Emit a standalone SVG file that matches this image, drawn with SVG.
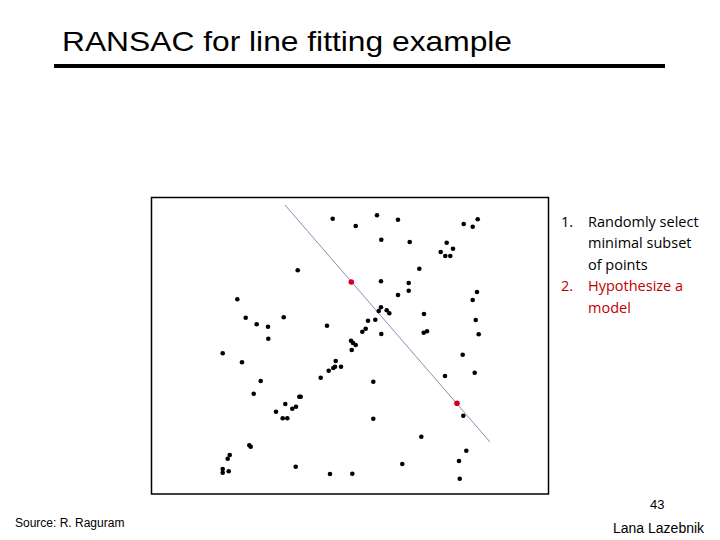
<svg xmlns="http://www.w3.org/2000/svg" width="720" height="540" viewBox="0 0 720 540">
<style>
.t{font-family:"Liberation Sans",Arial,sans-serif;fill:#000}
.l{font-family:"Open Sans","Liberation Sans",sans-serif;font-size:14.5px}
.p circle{fill:#000;r:2.3px}
.r{fill:#d0021b}
</style>
<rect width="720" height="540" fill="#fff"/>
<g id="title"><text class="t" x="62" y="51" font-size="28" textLength="450" lengthAdjust="spacingAndGlyphs">RANSAC for line fitting example</text>
<rect x="54" y="64" width="611" height="4" fill="#000"/></g>
<g id="plot">
<rect x="151.5" y="197.5" width="397" height="296.5" fill="#fff" stroke="#000" stroke-width="1.5"/>
<line x1="285" y1="205" x2="490" y2="442" stroke="#7070a0" stroke-width="0.8"/>
<g class="p">
<circle cx="332.7" cy="218.7" r="2.3"/><circle cx="297.7" cy="270.3" r="2.3"/><circle cx="237.3" cy="299.3" r="2.3"/><circle cx="245.7" cy="317.7" r="2.3"/><circle cx="256.7" cy="324.3" r="2.3"/><circle cx="268" cy="326.7" r="2.3"/><circle cx="283.7" cy="317.3" r="2.3"/><circle cx="327" cy="325.7" r="2.3"/><circle cx="268.3" cy="338.7" r="2.3"/><circle cx="222.7" cy="353.3" r="2.3"/><circle cx="242" cy="362.3" r="2.3"/><circle cx="335.7" cy="361" r="2.3"/><circle cx="333.3" cy="368" r="2.3"/><circle cx="335" cy="366.7" r="2.3"/><circle cx="341" cy="366.7" r="2.3"/><circle cx="328.7" cy="370.7" r="2.3"/><circle cx="320.7" cy="377.7" r="2.3"/><circle cx="260.7" cy="381" r="2.3"/><circle cx="253.7" cy="393.7" r="2.3"/><circle cx="299.3" cy="396.7" r="2.3"/><circle cx="300.7" cy="396.7" r="2.3"/><circle cx="285.3" cy="404" r="2.3"/><circle cx="296" cy="406.7" r="2.3"/><circle cx="292.3" cy="408.7" r="2.3"/><circle cx="276" cy="411.7" r="2.3"/><circle cx="282.7" cy="418.3" r="2.3"/><circle cx="287.3" cy="418.3" r="2.3"/><circle cx="249.3" cy="445.3" r="2.3"/><circle cx="250.7" cy="446.7" r="2.3"/><circle cx="229.7" cy="455" r="2.3"/><circle cx="227.7" cy="458.7" r="2.3"/><circle cx="222.7" cy="469" r="2.3"/><circle cx="222.7" cy="472.7" r="2.3"/><circle cx="228.7" cy="471.3" r="2.3"/><circle cx="295.7" cy="466.7" r="2.3"/><circle cx="330" cy="474" r="2.3"/>
<circle cx="377" cy="215.3" r="2.3"/><circle cx="355.7" cy="226" r="2.3"/><circle cx="398" cy="219.7" r="2.3"/><circle cx="381.3" cy="239.7" r="2.3"/><circle cx="409.7" cy="242" r="2.3"/><circle cx="463.7" cy="224" r="2.3"/><circle cx="472.7" cy="226.7" r="2.3"/><circle cx="477.7" cy="219.3" r="2.3"/><circle cx="446.7" cy="242.7" r="2.3"/><circle cx="453" cy="248.7" r="2.3"/><circle cx="440.7" cy="252" r="2.3"/><circle cx="445.3" cy="256" r="2.3"/><circle cx="450.3" cy="256" r="2.3"/><circle cx="419.3" cy="268.7" r="2.3"/><circle cx="381" cy="281.3" r="2.3"/><circle cx="408.7" cy="283" r="2.3"/><circle cx="408.7" cy="290.7" r="2.3"/><circle cx="398" cy="295" r="2.3"/><circle cx="477" cy="292" r="2.3"/><circle cx="472.7" cy="300" r="2.3"/><circle cx="381" cy="307.3" r="2.3"/><circle cx="378.7" cy="311" r="2.3"/><circle cx="386.7" cy="310.3" r="2.3"/><circle cx="389.3" cy="313.3" r="2.3"/><circle cx="424" cy="314" r="2.3"/><circle cx="368" cy="320.7" r="2.3"/><circle cx="375.3" cy="319.7" r="2.3"/><circle cx="475.7" cy="320" r="2.3"/><circle cx="362.3" cy="331.7" r="2.3"/><circle cx="365.7" cy="328.7" r="2.3"/><circle cx="381.3" cy="334" r="2.3"/><circle cx="423.7" cy="332.7" r="2.3"/><circle cx="427" cy="331.3" r="2.3"/><circle cx="478.7" cy="334.3" r="2.3"/><circle cx="351" cy="340.7" r="2.3"/><circle cx="353" cy="343" r="2.3"/><circle cx="355.7" cy="345" r="2.3"/><circle cx="351.7" cy="350" r="2.3"/><circle cx="462.7" cy="354.7" r="2.3"/><circle cx="474.7" cy="372.7" r="2.3"/><circle cx="445" cy="376" r="2.3"/><circle cx="373.3" cy="381.7" r="2.3"/><circle cx="463.3" cy="415.7" r="2.3"/><circle cx="373.3" cy="418.7" r="2.3"/><circle cx="421.3" cy="436.7" r="2.3"/><circle cx="466.3" cy="450.7" r="2.3"/><circle cx="459" cy="461" r="2.3"/><circle cx="402.3" cy="464" r="2.3"/><circle cx="352.3" cy="473.7" r="2.3"/><circle cx="459.7" cy="478.7" r="2.3"/>
</g>
<circle class="r" cx="351.3" cy="282" r="2.8"/><circle class="r" cx="457" cy="403.3" r="2.8"/>
</g>
<g id="steps" class="l">
<text x="561" y="227">1.</text><text x="588" y="227">Randomly select</text>
<text x="588" y="248">minimal subset</text><text x="588" y="270">of points</text>
<text x="561" y="291" fill="#c00000">2.</text><text x="588" y="291" fill="#c00000">Hypothesize a</text>
<text x="588" y="313" fill="#c00000">model</text>
</g>
<g id="footer">
<text class="t" x="650" y="509" font-size="13">43</text>
<text class="t" x="15" y="527" font-size="12">Source: R. Raguram</text>
<text class="t" x="613" y="533" font-size="14">Lana Lazebnik</text>
</g>
</svg>
